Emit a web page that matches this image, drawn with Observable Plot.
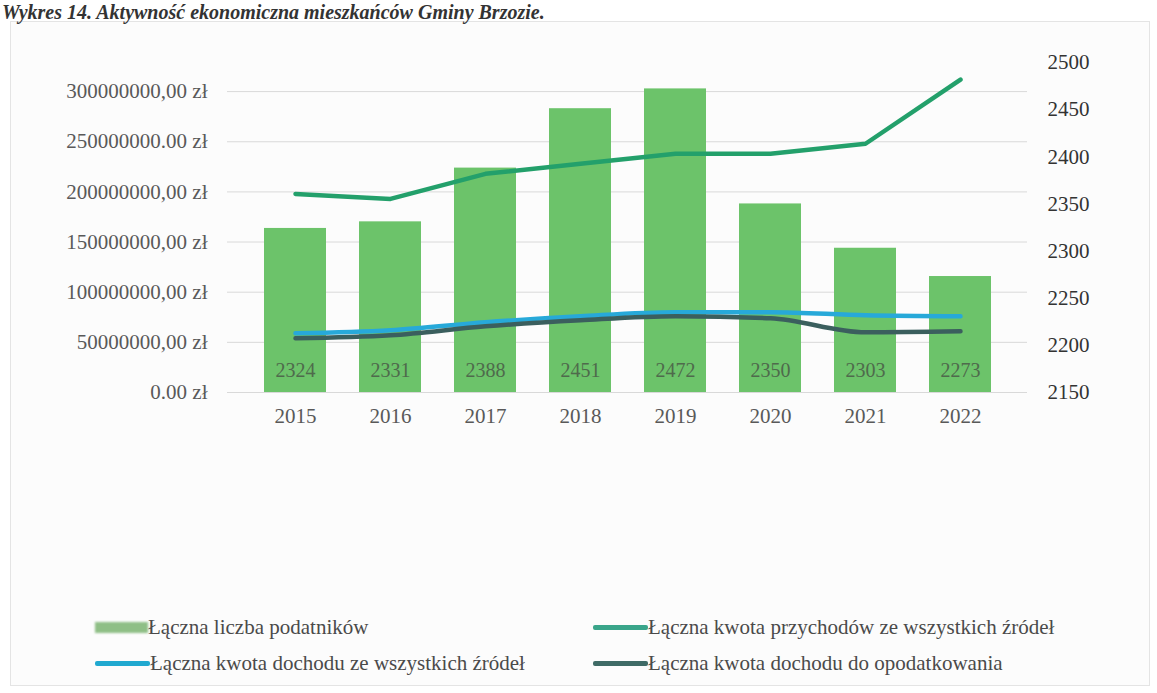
<!DOCTYPE html>
<html><head><meta charset="utf-8">
<script src="https://cdn.jsdelivr.net/npm/d3@7"></script>
<script src="https://cdn.jsdelivr.net/npm/@observablehq/plot@0.6"></script>
<style>
body{margin:0;background:#fff;font-family:"Liberation Serif","Times New Roman",serif;}
#wrap{position:relative;width:1157px;height:693px;overflow:hidden;}
#frame{position:absolute;left:10px;top:21px;width:1138px;height:663px;border:1px solid #e4e4e4;background:#fcfcfc;}
#title{position:absolute;left:2px;top:2px;font-family:"Liberation Serif","Times New Roman",serif;font-style:italic;font-weight:bold;font-size:20px;line-height:20px;color:#333;white-space:nowrap;}
#chart{position:absolute;left:0;top:0;}
.sw{display:inline-block;}
</style></head>
<body><div id="wrap"><div id="frame"></div><div id="title">Wykres 14. Aktywność ekonomiczna mieszkańców Gminy Brzozie.</div><div id="chart"></div></div>
<script>
const years = ["2015","2016","2017","2018","2019","2020","2021","2022"];
const taxpayers = [2324,2331,2388,2451,2472,2350,2303,2273];
const revenue = [198e6,193e6,218e6,228e6,238e6,238e6,248e6,312e6];
const income = [59e6,62e6,70e6,76e6,80e6,80e6,77e6,76e6];
const taxable = [54e6,57e6,66e6,72e6,76e6,74e6,60e6,61e6];
const leftTicks = [0,50e6,100e6,150e6,200e6,250e6,300e6];
const leftLabels = ["0.00 zł","50000000,00 zł","100000000,00 zł","150000000,00 zł","200000000,00 zł","250000000.00 zł","300000000,00 zł"];
const rightTicks = [2150,2200,2250,2300,2350,2400,2450,2500];
const seriesNames = ["Łączna liczba podatników","Łączna kwota przychodów ze wszystkich źródeł","Łączna kwota dochodu ze wszystkich źródeł","Łączna kwota dochodu do opodatkowania"];

const TOP = 329e6, RMIN = 2150, RMAX = 2500;
const k = TOP/(RMAX-RMIN);
const toLeft = v => (v-RMIN)*k;

const barData = years.map((y,i)=>({year:y, v:taxpayers[i], y2:toLeft(taxpayers[i])}));
const lineData = (arr)=> years.map((y,i)=>({year:y, v:arr[i]}));

const colBar="#6cc36a", colRev="#23a06b", colInc="#27a9d9", colTax="#3b5f5e";
const SERIF="'Liberation Serif','Times New Roman',serif";

const chart = Plot.plot({
  width:1157, height:440,
  marginTop:62, marginBottom:48, marginLeft:227, marginRight:130,
  style:{fontFamily:SERIF, fontSize:"21px", color:"#595959", background:"transparent"},
  x:{type:"band", domain:years, padding:0.35},
  y:{domain:[0,TOP]},
  marks:[
    Plot.ruleY(leftTicks,{stroke:"#d9d9d9", strokeWidth:1}),
    Plot.barY(barData,{x:"year", y1:0, y2:"y2", fill:colBar}),
    Plot.text(barData,{x:"year", y:()=>toLeft(2173), text:d=>String(d.v), fill:"#4f6a4c", fontSize:20}),
    Plot.line(lineData(revenue),{x:"year", y:"v", stroke:colRev, strokeWidth:4.5}),
    Plot.line(lineData(income),{x:"year", y:"v", stroke:colInc, strokeWidth:4.5, curve:"monotone-x"}),
    Plot.line(lineData(taxable),{x:"year", y:"v", stroke:colTax, strokeWidth:4.5, curve:"monotone-x"}),
    Plot.axisX({tickSize:0, tickPadding:16, label:null, fontSize:21}),
    Plot.axisY(leftTicks,{anchor:"left", tickSize:0, tickPadding:20, label:null, fontSize:21, tickFormat:(d)=>leftLabels[leftTicks.indexOf(d)]}),
    Plot.axisY(rightTicks.map(toLeft),{anchor:"right", tickSize:0, tickPadding:20, label:null, fontSize:21, fill:"#333", tickFormat:d=>String(Math.round(d/k+RMIN)), textAnchor:"start"})
  ]
});
document.getElementById("chart").appendChild(chart);

const wrap=document.getElementById("wrap");
const items=[
  {x:95,y:627,name:seriesNames[0],type:"rect",c:"#8fbf86"},
  {x:593,y:627,name:seriesNames[1],type:"line",c:"#3aa58a"},
  {x:95,y:663,name:seriesNames[2],type:"line",c:"#21a9d0"},
  {x:593,y:663,name:seriesNames[3],type:"line",c:"#3f6b66"}
];
items.forEach(it=>{
  const d=document.createElement("div");
  Object.assign(d.style,{position:"absolute",left:it.x+"px",top:(it.y-12)+"px",height:"24px",display:"flex",alignItems:"center",whiteSpace:"nowrap"});
  const s=document.createElement("span");s.className="sw";
  if(it.type==="rect"){s.style.width="53px";s.style.height="11px";s.style.background=it.c;s.style.filter="blur(1px)";}
  else{s.style.width="55px";s.style.height="5px";s.style.background=it.c;s.style.borderRadius="2px";}
  d.appendChild(s);
  const t=document.createElement("span");t.textContent=it.name;
  t.setAttribute("style","font-family:'Liberation Serif','Times New Roman',serif;font-size:21px;color:#4a4a4a;");
  d.appendChild(t);
  wrap.appendChild(d);
});
</script></body></html>
